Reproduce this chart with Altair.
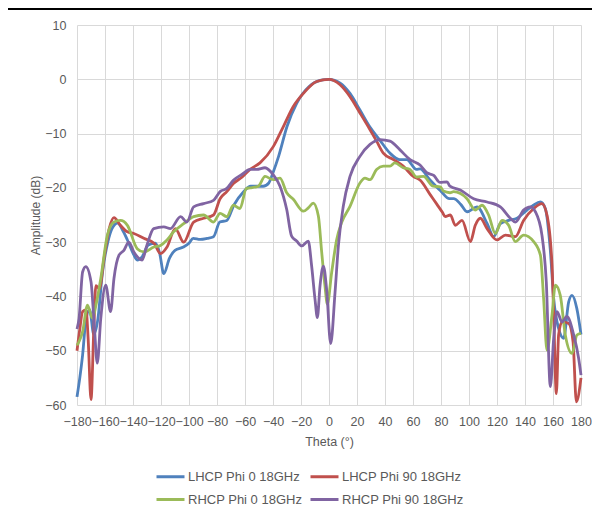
import altair as alt
import pandas as pd

series_names = ["LHCP Phi 0 18GHz", "LHCP Phi 90 18GHz", "RHCP Phi 0 18GHz", "RHCP Phi 90 18GHz"]
series_colors = ["#4F81BD", "#C0504D", "#9BBB59", "#8064A2"]

x_ticks = list(range(-180, 181, 20))
y_ticks = list(range(-60, 11, 10))

lhcp0_theta = [-180, -178, -176, -173.5, -171, -168, -165, -162, -158, -155, -151, -147, -144, -140,
               -137, -133.5, -129, -124, -121, -118, -114, -110, -104, -100, -97, -92, -87, -82.5,
               -78, -73, -68, -61, -56, -50, -47, -43, -40, -36, -30, -23, -14, -6.5, 0, 8, 15, 22,
               29, 36, 43.5, 50.5, 55.5, 62.5, 65, 72, 79.5, 86, 89, 94, 98.6, 105.7, 113, 117.6,
               122.4, 128.3, 134.3, 141.4, 146, 151, 154.5, 158, 160.5, 164, 167.6, 171.2, 173.6,
               177, 180]
lhcp0_amp = [-58.5, -55, -50.8, -44, -42.5, -47, -44, -36, -30, -27.5, -26.5, -28, -29.6, -32,
             -33.3, -32.7, -30.5, -30.2, -32, -35.8, -33, -31.5, -30.9, -30.2, -29.3, -29.5, -29.3, -29,
             -26.3, -26, -23.2, -20.7, -19.7, -19.7, -19.7, -19.1, -17.2, -14.2, -8.7, -4.4, -1.3, -0.2, 0, -0.7, -2.6, -5.6,
             -8.7, -11.1, -13.6, -14.8, -14.8, -16.6, -16.5, -18.5, -20.5, -22, -22, -23, -24.4, -23.5, -26.6, -29,
             -26.6, -26, -25.6, -24.1, -23.2, -22.6, -23.8, -31.2, -40.4, -45.9, -47.7, -41, -39.8,
             -42.2, -47]

lhcp90_theta = [-180, -178, -176, -173.5, -172, -170, -168, -166.5, -164, -160.7, -157, -153.6, -149,
                -144, -139.4, -132.3, -125, -120.4, -115.7, -109.8, -103.8, -96.7, -89.6, -82.5, -77.8,
                -73, -68.3, -62, -56.4, -49.3, -39.8, -32.6, -25.5, -18.3, -8.8, 0, 7.9, 15, 22.1, 29.3,
                34, 38.8, 46, 53, 60.2, 65.2, 72.4, 77, 81, 83, 86.7, 90.2, 95, 101, 104.5, 108.1, 112.9,
                120, 126, 133.1, 139, 146.2, 152.1, 155.7, 159.3, 160.5, 162.4, 164, 166.4, 171.2, 174.3,
                176.7, 180]
lhcp90_amp = [-50, -46, -42.8, -42.5, -48, -59, -46, -38, -38.6, -33, -27.5, -25.5, -26.9,
              -28.1, -28.4, -29.3, -30.2, -32.1, -30.9, -27.5, -30, -26.3, -25.6, -25, -22,
              -20.7, -19.2, -18, -16.6, -15.4, -12.4, -8.7, -5, -2.6, -0.4, 0, -1, -3.2, -6.2, -9.3,
              -11.4, -13.6, -14.8, -16, -17.9, -18.6, -21.3, -23, -24.5, -25.3, -25, -26.9, -26, -29.9, -26.9, -25.6, -27.5,
              -29.6, -28.7, -29, -26, -23.8, -22.9, -25, -34.2, -43.4, -57.9, -47.1, -44.7, -45, -48.3,
              -59.4, -55]

rhcp0_theta = [-180, -178.5, -176, -172.5, -169, -166, -163, -158.3, -153.6, -149, -144, -137, -132.3,
               -125, -120.4, -115.7, -111, -103.8, -96.7, -89.6, -82.5, -77.8, -73, -68.3, -63.6, -59,
               -56.4, -50.5, -45.7, -39.8, -35, -30.2, -25.5, -18.3, -14.8, -11.2, -7.6, -5.2, -2.9,
               -1.2, 1.9, 5.5, 9, 15, 22.1, 25.7, 29.3, 34, 38.8, 43.6, 47, 53, 57.9, 62.6, 67.4, 74.5,
               79.5, 81.7, 86.4, 89, 98.6, 104.5, 109.3, 114, 118.8, 123.6, 128.3, 133.1, 139, 146.2,
               151, 153.3, 155.7, 159.3, 161.7, 165.2, 168.8, 173.6, 177.1, 180]
rhcp0_amp = [-49, -48.3, -46.5, -41.6, -44, -41, -36.7, -28.7, -26.3, -26, -26.9, -31.2, -31.8,
             -30.9, -30.6, -29.6, -28.1, -26.6, -25.3, -25, -26.3, -24.7, -25.3, -23.2, -23.8, -20.1,
             -20, -19.7, -17.9, -18.5, -18.2, -20.9, -22.1, -24.3, -23.7, -22.8, -25.2, -31.9, -38,
             -41.4, -35.6, -29.5, -26.4, -23.4, -19.1, -18.2, -18.5, -16.6, -16, -16, -15.4, -16.3, -16.6, -18, -17.9, -19.7,
             -19.8, -20.6, -20.9, -20.7, -22, -24.1, -23.2, -25, -28.4, -26, -26.9, -29.9, -28.7, -29.9,
             -32.4, -40.4, -49.9, -43.4, -37.9, -39.8, -47.1, -50.5, -47.1, -46.8]

rhcp90_theta = [-180, -178.5, -176, -173.7, -170, -167.8, -165.5, -163, -159.5, -156, -153.6, -150,
                -146.5, -143, -139.4, -133.5, -130, -125.2, -118, -113.3, -106, -101.5, -96.7, -89.6,
                -82.5, -77.8, -73, -68.3, -62, -56.4, -51.7, -45.7, -39.8, -35, -30.2, -26.7, -23.1,
                -19.5, -14.8, -12.4, -10, -8.3, -6.4, -4, -1.7, 1.2, 4.3, 6.7, 10.2, 15, 22.1, 29.3,
                36.4, 43.6, 50.7, 57.9, 65, 69.8, 74.8, 79.3, 84.3, 86.4, 93.8, 103.3, 112.9, 122.4,
                129.5, 133.1, 139, 143.8, 147.4, 152.1, 155.2, 158.1, 160.5, 162.9, 166.4, 169.9,
                174.8, 178.3, 180]
rhcp90_amp = [-46, -44, -35.5, -34.5, -37.3, -44.7, -52.3, -44, -37.9, -42.8, -36.7, -32.4,
              -31.5, -30, -31.8, -33.3, -30.5, -27.5, -27.2, -27.5, -25.3, -26.3, -23.5, -22.9,
              -22.3, -20.7, -20.1, -18.6, -17.5, -16.6, -16.6, -16.3, -17.6, -19.7, -24, -28.9, -29.8,
              -30.7, -29.8, -34.4, -40.5, -43.9, -38, -34.4, -38.7, -48.7, -39.3, -30.7, -23.4, -17.9, -14.2, -12,
              -11.1, -11.4, -13, -14.8, -15.8, -17.2, -17.7, -19, -18.9, -19.7, -20.4, -22, -22.6, -23.5,
              -25.6, -26.3, -24.1, -23.5, -24.4, -28.7, -37.3, -56.6, -47.7, -42.8, -44.7, -43.7,
              -47.1, -51.4, -54.5]

all_theta = [lhcp0_theta, lhcp90_theta, rhcp0_theta, rhcp90_theta]
all_amp = [lhcp0_amp, lhcp90_amp, rhcp0_amp, rhcp90_amp]

rows = []
for name, ths, amps in zip(series_names, all_theta, all_amp):
    for t, a in zip(ths, amps):
        rows.append({"series": name, "theta": t, "amp": a})
df = pd.DataFrame(rows)

FONT = "Liberation Sans"
GRAY = "#595959"

lines = alt.Chart(df).mark_line(interpolate="monotone", strokeWidth=2.8).encode(
    x=alt.X("theta:Q",
            scale=alt.Scale(domain=[-180, 180], nice=False, zero=False),
            axis=alt.Axis(values=x_ticks, title="Theta (°)", grid=True, gridColor="#d9d9d9",
                          gridWidth=1, domain=False, ticks=False, tickSize=0, labelPadding=10,
                          labelFontSize=12.5, labelColor=GRAY, labelFont=FONT, labelFlush=False,
                          labelOverlap=False, titleFont=FONT, titleFontSize=12.5,
                          titleFontWeight="normal", titleColor=GRAY, titleX=252, titleY=36.5,
                          titleBaseline="middle", titleAlign="center")),
    y=alt.Y("amp:Q",
            scale=alt.Scale(domain=[-60, 10], nice=False, zero=False),
            axis=alt.Axis(values=y_ticks, title="Amplitude (dB)", grid=True, gridColor="#d9d9d9",
                          gridWidth=1, domain=False, ticks=False, tickSize=0, labelPadding=11,
                          labelFontSize=12.5, labelColor=GRAY, labelFont=FONT, labelFlush=False,
                          labelOverlap=False, titleFont=FONT, titleFontSize=12,
                          titleFontWeight="normal", titleColor=GRAY, titleX=-42, titleY=190,
                          titleAngle=270, titleBaseline="middle", titleAlign="center")),
    color=alt.Color("series:N",
                    scale=alt.Scale(domain=series_names, range=series_colors),
                    sort=series_names,
                    legend=alt.Legend(title=None, orient="none", legendX=78, legendY=436,
                                      direction="horizontal", columns=2, symbolType="stroke",
                                      symbolStrokeWidth=3, symbolSize=784, labelOffset=2,
                                      columnPadding=1, rowPadding=-9, padding=0,
                                      labelFont=FONT, labelFontSize=13, labelColor=GRAY)),
)

border = alt.Chart(pd.DataFrame({"v": [0]})).mark_rule(color="black", strokeWidth=2.5).encode(
    x=alt.value(-70), x2=alt.value(523), y=alt.value(-16.3), y2=alt.value(-16.3)
)

chart = alt.layer(lines, border).properties(
    width=504, height=380,
    autosize=alt.AutoSizeParams(type="none"),
    padding={"left": 69, "top": 17, "right": 11, "bottom": 103},
    background="white",
).configure_view(stroke=None)

chart.save("out.html", embed_options={"renderer": "svg", "actions": False})
